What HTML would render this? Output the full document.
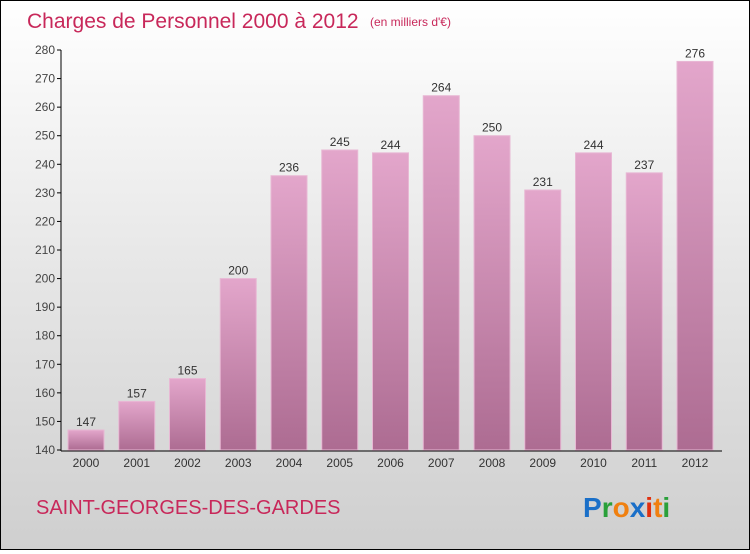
<!DOCTYPE html>
<html><head><meta charset="utf-8"><style>
body{margin:0;width:750px;height:550px;overflow:hidden}
#root{position:relative;width:748px;height:548px;border:1px solid #000;background:linear-gradient(#ffffff,#e6e6e6 50%,#cfcfcf);font-family:"Liberation Sans",sans-serif}
</style></head><body>
<div id="root">
<svg width="748" height="548">
<defs><linearGradient id="bg" x1="0" y1="0" x2="0" y2="1"><stop offset="0" stop-color="#e3a6cb"/><stop offset="1" stop-color="#ad6c92"/></linearGradient></defs>
<text x="26" y="27" font-size="21" fill="#c8285a">Charges de Personnel 2000 à 2012</text>
<text x="369" y="25" font-size="12" fill="#c8285a">(en milliers d'€)</text>
<text x="35" y="513" font-size="20" fill="#c8285a">SAINT-GEORGES-DES-GARDES</text>
<g font-size="28" font-weight="bold">
<text x="582" y="516"><tspan fill="#1a6fc8">P</tspan><tspan fill="#2aa03a">r</tspan><tspan fill="#f08010">o</tspan><tspan fill="#1a6fc8">x</tspan><tspan fill="#e03010">i</tspan><tspan fill="#f08010">t</tspan><tspan fill="#2aa03a">i</tspan></text></g>
<g id="plot"></g>
</svg></div>
<script>
const categories=["2000","2001","2002","2003","2004","2005","2006","2007","2008","2009","2010","2011","2012"];
const values=[147,157,165,200,236,245,244,264,250,231,244,237,276];
const yTicks=[140,150,160,170,180,190,200,210,220,230,240,250,260,270,280];
const NS="http://www.w3.org/2000/svg";
const g=document.getElementById('plot');
const y=v=>449-(v-140)*(400/140);
const x=i=>85+i*50.75;
function mk(t,a){const e=document.createElementNS(NS,t);for(const k in a)e.setAttribute(k,a[k]);g.appendChild(e);return e;}
yTicks.forEach(t=>{
 const l=mk('line',{x1:56,x2:60,y1:y(t),y2:y(t),stroke:'#000'});
 
 
 const tx=mk('text',{x:54,y:y(t)+4,'font-size':12,'text-anchor':'end',fill:'#444'});tx.textContent=t;
 
 
});
values.forEach((v,i)=>{
 const r=mk('rect',{x:x(i)-18,y:y(v),width:36,height:y(140)-y(v),fill:'url(#bg)',stroke:'#e8b8d4','stroke-width':1});
 
 
 const t=mk('text',{x:x(i),y:y(v)-4,'font-size':12,'text-anchor':'middle',fill:'#333'});t.textContent=v;
 
 
 const c=mk('text',{x:x(i),y:466,'font-size':12,'text-anchor':'middle',fill:'#333'});c.textContent=categories[i];
 
 
});
const ya=mk('line',{x1:60,x2:60,y1:49,y2:450,stroke:'#000'});


const xa=mk('line',{x1:60,x2:721,y1:450,y2:450,stroke:'#000'});


</script>
</body></html>
